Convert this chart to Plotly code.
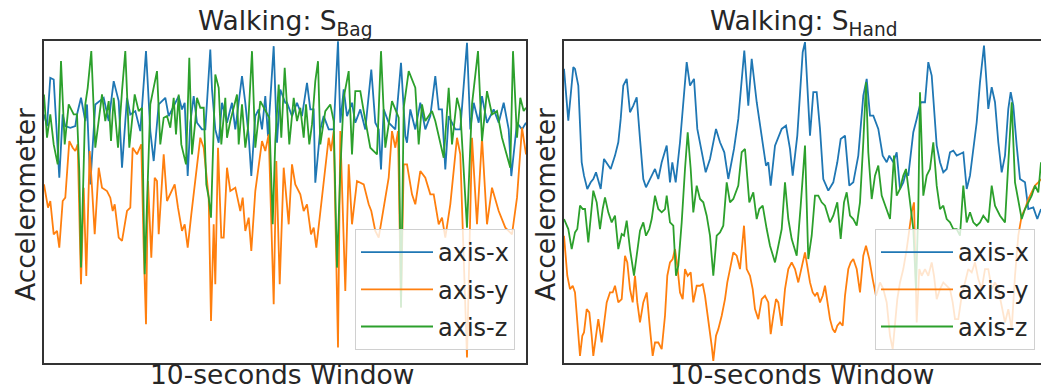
import plotly.graph_objects as go

# ---------------- Left panel: Walking, S_Bag (sample index, arbitrary accel units)
bag_x_t = [0,3,6.3,9.7,11.3,15.3,18.7,21.3,26.3,31.3,33,37,41.3,43,46.3,51.3,59.7,64.7,69.7,74.7,78,83,86.3,91.3,96.3,102,104,106.3,109.7,114.7,121.3,
           124.7,134.7,138,140.7,143.7,146.3,149.7,153,158,161.3,166.3,168,171.3,174.7,178,183,188,191.3,198,201.3,204.7,207.3,211.3,214.7,218,221.3,224,229.7,233,236.3,241.3,
           243,248,253,258,263,266.3,269.7,271.3,276.3,279.7,284.7,289.7,294,296.3,299.7,303,308,311.3,316.3,321.3,327.3,331.3,334.7,337,339.7,344.7,351.3,357,361.3,
           363,366.3,371.3,376.3,381.3,386.3,391.3,394.7,398,401.3,404.7,411.3,416.3,423,426.3,429.7,434.7,438,443,449.7,454.7,459.7,464.7,467.3,473,478,482]
bag_x_v = [74.5,71,85.5,85,76.5,55.5,74.5,71,70.5,71,74.5,79.5,72.5,77.5,53.5,77.5,79.5,72.5,84.5,78.5,58.5,79.5,74.5,75.5,69.5,93.5,82.5,69.5,60.5,77.5,79.5,
           74,80,76,78,56,72,80,72,70,70,94,82,70,66,78,72,78,70,86,78,68,56,74,76,70,80,68,95,66,82,78,
           78,74,78,74,84,76,76,54,70,74,70,70,96.5,72,82,74,78,72,76,70,88,72,70,58,76,72,70,90,68,
           66,76,70,78,70,74,86,76,76,58,74,70,70,96,70,78,72,80,72,76,72,78,70,56,72,70,72]

bag_y_t = [0,4,6.3,9.7,13,15.3,18.7,21.3,25.3,28.7,31.3,33.7,37,39.7,42.3,45.7,48,50.7,54.7,58,63,66.3,68.7,70.7,74.7,78,79.7,83,86.3,88.7,93,97.3,99.7,102,104,107.3,110.7,113,114.7,119.7,123,
           127.3,130.7,134,138,140.7,143.7,147.3,151.3,156.3,159.7,163,164.7,167,169.7,171.3,174,177.3,179.7,183,186.3,191.3,196.3,198.7,201.3,204.7,207.3,211.3,218,221.3,224.7,229.7,232.3,235.7,239.7,
           244.7,248,251.3,256.3,259.7,263,267,269.7,272.3,276.3,279.7,284.7,287,289.7,294,296.3,301.3,304.7,308,313,319.7,324.7,327.3,331.3,334.7,338,341.3,344.7,348,351.3,354,357,359.7,
           363,368,371.3,376.3,381.3,386.3,389.7,394.7,398,401.3,406.3,413,416.3,423,428,433,438,443,448,454.7,461.3,468,473,478,482]
bag_y_v = [53.5,46.5,48.5,38.5,39.5,34.5,48.5,49.5,66.5,64.5,63.5,65.5,23.5,52.5,26,63.5,52.5,38.5,58.5,52.5,51.5,49.5,45.5,47.5,37.5,36.5,39.5,45.5,46.5,64.5,62.5,65.5,34.5,11.5,54.5,31.5,55.5,54.5,38.5,62.5,48.5,
           51.5,53.5,46.5,39.5,41.5,34.5,44.5,55.5,67.5,64.5,54.5,49.5,12.5,41.5,23.5,64.5,37.5,37.5,58.5,51.5,52.5,45.5,49.5,39.5,43.5,33.5,51.5,66.5,63.5,68.5,17.5,60.5,23.5,58.5,
           41.5,59.5,53.5,50.5,45.5,47.5,38.5,40.5,34.5,45.5,55.5,67.5,63.5,69.5,4.5,69.5,21.5,59.5,41.5,54.5,53.5,47.5,45.5,39.5,37.5,43.5,50.5,55.5,69.5,64.5,69.5,16.5,59.5,
           59.5,50.5,47.5,57.5,55.5,50.5,50.5,41.5,43.5,37.5,47.5,67.5,62.5,1.5,67.5,41.5,67.5,41.5,52.5,45.5,40.5,38.5,49.5,70.5,62.5]

bag_z_t = [0,3,6.3,9.7,13.7,17,20.7,24.7,29.7,33,35.3,37,41.3,43.7,47.3,51.3,58,61.3,64.7,67,69.7,74,78,81.3,85.3,90.7,94.7,98,100.7,106.3,113,116.3,119.7,123,
           126.3,129.7,132,134.7,137.3,142,145.3,148,151.3,153,156.3,159.7,162.3,164.7,167,171.3,174.7,177.3,181.3,183,186.3,193,194.7,198,201.3,204,208,211.3,216.3,221.3,225.3,228.7,231.3,234.7,237.3,240.7,
           245.3,249.7,253,256.3,259.7,262,265.3,268,271.3,274,276.3,281.3,286.3,289.7,293,296.3,299.7,304.7,308,311.3,316.3,319.7,326.3,333,337,341.3,348,354.7,357,359.7,
           364.7,371.3,374.7,378,381.3,388,391.3,399.7,404.7,408,413,416.3,423,428,434,438,443,448,453,458,466.3,469,473,476.3,479.7,482]
bag_z_v = [80.5,67.5,74.5,65.5,59.5,90.5,65.5,77.5,74.5,74.5,57.5,28.5,77.5,82.5,93.5,64.5,80.5,72.5,78.5,66.5,79.5,64.5,81.5,93.5,64.5,80.5,75.5,76.5,26.5,77.5,87.5,65.5,73.5,74,
           70.5,79.5,68.5,80.5,65.5,59.5,91.5,62.5,72.5,79.5,76.5,76.5,53.5,49.5,43.5,86.5,82.5,65.5,79.5,67.5,72.5,80.5,65.5,77.5,64.5,70.5,93.5,64.5,78.5,75.5,73.5,41.5,66.5,83.5,67.5,88.5,
           65.5,79.5,72.5,76.5,67.5,77.5,65.5,71.5,84.5,90.5,65.5,75.5,77.5,72.5,28.5,57.5,79.5,87.5,62.5,81.5,81.5,75.5,64.5,62.5,93.5,64.5,78.5,73.5,16.5,76.5,
           87.5,82.5,65.5,77.5,72.5,75.5,72.5,61.5,82.5,65.5,79.5,75.5,40.5,77.5,93.5,66.5,81.5,74.5,75.5,67.5,58.5,93.5,67.5,79.5,75.5,76.5]

# ---------------- Right panel: Walking, S_Hand
hand_x_t = [0,4.3,9.3,11,14.3,17.7,20,23.3,26.7,29.3,32,36.7,40,44.3,46.7,51,54.3,56.7,59.3,62.7,66,69.3,72.7,76,79.3,82,86,91,94.3,97.7,102.7,106,108.3,111.7,116,
            122.7,126,130,133.3,137.7,141.7,146,152,156,160.3,164.3,170,174.3,180.3,184.3,187.7,192.7,197.7,202,204.3,206.7,211,217.7,222,226,228.7,233.3,238.7,241,
            246,249.3,252.7,256,259.3,264.3,269.3,273.3,276.7,281,285.3,289.3,294.3,299.3,302.7,306,309.3,314.3,318.7,322.7,325.3,329.3,332.7,336,339.3,342,344.3,349.3,352.7,356.7,
            361,364.3,367.7,372.7,376,379.3,382.7,386,389.3,392.7,396,399.3,402.7,406,412.7,416,420,424.3,427.7,431,434.3,437.7,441,444.3,446.7,449.3,452.7,456,461,464.3,469.3,473.3,477]
hand_x_v = [88,72.5,88.5,88,83,60,56,52,54,55,57,52,61,59,58,62,66,73,83,85,75,77,79.5,67,55,52.5,55,58,55,60,65,54,60,54,66,
            90,83,85,70,63,57,61,70,66,63,55,64,73,93.5,77,91,78,67,59,60,53,65,70,71,64,56,68,93,96,
            68,81,81,70,55,51.5,54,60,67,68,53,54,62,80,85,74,74,70,62,60,62,60,63,52,54,57,56,69,73,78,
            78,90,86,65,60,57,58,63,63.5,62,62.5,63,52,56,72,84,95,76,82.5,78,66,57,62,76,81,77,65,55,54,46,46.5,43,46]

hand_y_t = [0,3.3,6,8.7,11,13.3,16,18.3,20,22.7,25.3,27.7,29.3,32,34.3,37.7,40,42.7,46,48.7,51,54.3,57.7,61,63.3,66,68.7,71,73.3,76,79.3,82.7,86,88.7,91,94.3,97.7,
            101,103.3,106,108.7,111,113.3,116,118.7,121,123.7,126.7,129.3,132.7,136,138.7,141,144.3,147.7,149.3,152,154.3,157.7,161,163.3,166,169.3,172.7,176,180,182.7,186,188.7,191,194.3,197.7,
            201,204.3,206.7,209.3,212,214.3,217.7,221,224.3,227.7,231,234.3,238.7,241,
            246,248.7,251,253.3,256,258.7,261,263.3,266,268.7,271,273.3,276,278.7,281,284.3,286.7,289.3,292.7,296,299.3,302,305.3,308.7,312,316,319.3,322.7,326,328.7,331,333.3,336,339.3,342.7,347.7,350,
            352.7,355.3,357.7,361,364.3,367.7,370,372.7,376,379.3,382.7,386,388.7,391,394.3,397.7,401,404.3,407.7,411,414.3,417.7,421,424.3,427.7,431,434.3,437.7,441,444.3,447.7,451,454.3,457.7,461,464.3,467.7,471,474.3,477]
hand_y_v = [38,26,22,23,21,13,2,8,9,16,15,8,2,8,13,6,12,18,21,21,23,18,19,32,30,22,18,26,18,12,18,21,10,2,6,6,4,
            14,26,30,31,34,29,21,19,28,26,27,18,23,23,23.5,20,13,5,0.5,8,10,14,19,24,28,33,32,28,41,28,26,22,16,13,19,
            20,18,8.5,14,19,18,11,22,28,30,28,24,30,33,
            24,21,20,21,18,20,23,18,13,10,9,11,12,11,20,28,30,31,28,21,32,35,31,25,20,24,22,18,8,4,11,19,24,28,34,45,48,
            12,28,26,28,26,30,26,19,22,24,23,22,18,13,13,20,24,28,27,30,25,22,28,28,22,24,22,17,12,16,10,26,38,44,46,49,51,53,54,55]

hand_z_t = [0,4.3,7.7,11,13.3,16,18.7,21,24.3,29.3,32.7,36,38.7,41,44.3,47.7,51,54.3,57.7,60,62.7,66,70,73.3,76,79.3,82,85.3,87.7,91,94.3,97.7,101,102.7,106,109.3,112,114.3,117.7,
            121,123.7,126.7,129.3,132.7,136,139.3,142.7,146,149.3,152.7,156,159.3,162.7,166,169.3,174.3,177.7,181,185.3,189.3,192.7,195.3,198.7,202.7,206,211,214.3,217.7,221,224.3,227.7,232.7,236.7,241,
            244.3,247.7,251,254.3,257.7,261,266,269.3,273.3,276.7,280,282.7,286,289.3,292.7,296,299.3,302,304.3,307.7,311,314.3,317.7,321,326,330,332.7,336,339.3,342,346,349.3,352,354.3,356,
            359.3,362.7,366,369.3,372.7,376,379.3,382.7,386,389.3,392.7,396,399.3,402.7,406,409.3,412.7,416,419.3,424.3,427.7,431,436,441,444.3,447.7,451,454.3,457.7,461,464.3,467.7,471,474.3,477]
hand_z_v = [43,40,34,39,40,47,46,46,36,51.5,48,40,46,49.5,45,42,44,34,38.5,38,42.5,34,26,33,39.5,42,38,40,43,50,46,45,46,50,42,41,26,29,42,
            58,69,58,45,53,49,48,44,38,26,38,39,41,54,48,49,53,63,64,48,51,43,46,47,40,35,30,35,40,54,43,37,32,47,65,
            31,38,50,50,48,47,42,44,48,37,48,51,44,43,41,48,66,84,63,49,56,59,50,47,43,62,50,52,56,58,48,40,22,46,81,
            50,56,58,66,53,46,47,43,42,40,40,38,53,42,45,42,41,42,44,42,53,47,44,42,60,78,54,48,43,46,48,50,53,51,60]

series = [
    ("axis-x", "#1f77b4"),
    ("axis-y", "#ff7f0e"),
    ("axis-z", "#2ca02c"),
]
bag = [(bag_x_t, bag_x_v), (bag_y_t, bag_y_v), (bag_z_t, bag_z_v)]
hand = [(hand_x_t, hand_x_v), (hand_y_t, hand_y_v), (hand_z_t, hand_z_v)]
for t, v in bag + hand:
    assert len(t) == len(v), (len(t), len(v))

TXT = "#262626"
FONT = "DejaVu Sans"

fig = go.Figure()
for (name, col), (t, v) in zip(series, bag):
    fig.add_trace(go.Scatter(x=t, y=v, mode="lines", name=name, line=dict(color=col, width=1.8),
                             xaxis="x", yaxis="y", legend="legend", legendgroup="L" + name))
for (name, col), (t, v) in zip(series, hand):
    fig.add_trace(go.Scatter(x=t, y=v, mode="lines", name=name, line=dict(color=col, width=1.8),
                             xaxis="x2", yaxis="y2", legend="legend2", legendgroup="R" + name))

W, H = 1041, 390
ydom = [1 - 362.5 / H, 1 - 40.5 / H]
axline = dict(showgrid=False, zeroline=False, showticklabels=False, ticks="",
              showline=True, linecolor="#333333", linewidth=1.5)

leg_common = dict(bgcolor="rgba(255,255,255,0.8)", bordercolor="#d0d0d0", borderwidth=1,
                  font=dict(family=FONT, size=24, color=TXT), xanchor="right", yanchor="bottom",
                  tracegroupgap=3, itemwidth=72)

fig.update_layout(
    width=W, height=H, margin=dict(l=0, r=0, t=0, b=0),
    paper_bgcolor="white", plot_bgcolor="white",
    font=dict(family=FONT, color=TXT),
    xaxis=dict(domain=[44 / W, 526 / W], range=[0, 482], mirror=True, **axline),
    yaxis=dict(domain=ydom, range=[0, 96.7], mirror=True, **axline),
    xaxis2=dict(domain=[564 / W, 1.0], range=[0, 477], mirror=True, anchor="y2", **axline),
    yaxis2=dict(domain=ydom, range=[0, 96.5], mirror=False, anchor="x2", **axline),
    legend=dict(x=515 / W, y=1 - 350 / H, **leg_common),
    legend2=dict(x=1035 / W, y=1 - 350 / H, **leg_common),
    showlegend=True,
)

def ann(text, x, y, size=26.5, angle=0):
    fig.add_annotation(text=text, x=x / W, y=1 - y / H, xref="paper", yref="paper",
                       showarrow=False, textangle=angle, xanchor="center", yanchor="middle",
                       font=dict(family=FONT, size=size, color=TXT))

ann("Walking: S<sub>Bag</sub>", 285, 22)
ann("Walking: S<sub>Hand</sub>", 803, 22)
ann("10-seconds Window", 282, 374)
ann("10-seconds Window", 802, 374)
ann("Accelerometer", 25, 205, angle=-90)
ann("Accelerometer", 545, 205, angle=-90)

fig.write_html("out.html", config={"displayModeBar": False},
               post_script="document.body.style.margin='0';document.body.style.overflow='hidden';")
